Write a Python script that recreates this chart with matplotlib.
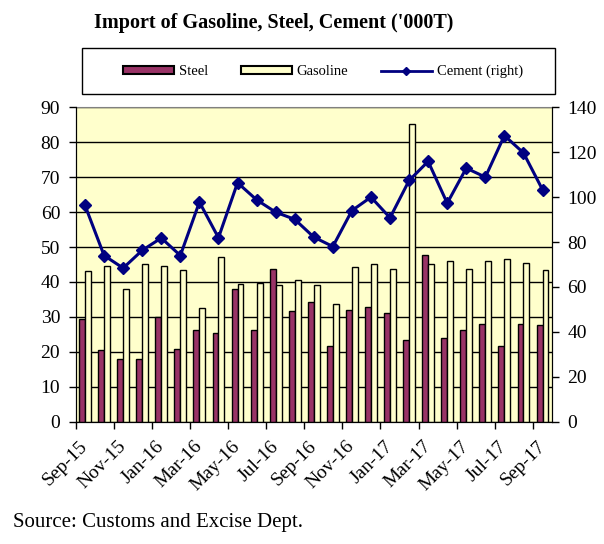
# Import packages
import matplotlib
matplotlib.use('Agg')
import matplotlib.pyplot as plt
from matplotlib.patches import Rectangle
from matplotlib.lines import Line2D
from matplotlib.patches import Patch

plt.rcParams['font.family'] = ['Liberation Serif', 'DejaVu Serif']

# Monthly data, Sep-15 to Sep-17
months = ['Sep-15', 'Oct-15', 'Nov-15', 'Dec-15', 'Jan-16', 'Feb-16', 'Mar-16',
          'Apr-16', 'May-16', 'Jun-16', 'Jul-16', 'Aug-16', 'Sep-16', 'Oct-16',
          'Nov-16', 'Dec-16', 'Jan-17', 'Feb-17', 'Mar-17', 'Apr-17', 'May-17',
          'Jun-17', 'Jul-17', 'Aug-17', 'Sep-17']
steel = [29.5, 20.5, 18, 18, 30, 20.8, 26.2, 25.4, 38.1, 26.2, 43.8, 31.7,
         34.4, 21.7, 32.1, 32.9, 31, 23.3, 47.8, 24, 26.2, 28.1, 21.7, 28.1, 27.6]
gasoline = [43.1, 44.6, 37.9, 45, 44.6, 43.5, 32.6, 47.1, 39.5, 39.6, 39, 40.5,
            39, 33.6, 44.3, 45.2, 43.8, 85.3, 45.2, 45.9, 43.8, 45.9, 46.7, 45.5, 43.3]
cement = [96.3, 74, 68.4, 76.3, 81.8, 74, 97.8, 81.9, 106.4, 98.8, 93.3, 90.1,
          82.2, 78, 94, 100, 90.8, 107.4, 115.9, 97.3, 112.9, 108.9, 127.4, 119.7, 103.3]

x = list(range(len(months)))

fig = plt.figure(figsize=(6.04, 5.44), dpi=100)
ax = fig.add_axes([0.125, 0.2248, 0.789, 0.578])
ax.set_facecolor('#FFFFCC')

# Bars
w = 0.31
ax.bar([i - w / 2 for i in x], steel, width=w, color='#993366',
       edgecolor='black', linewidth=1, zorder=3)
ax.bar([i + w / 2 for i in x], gasoline, width=w, color='#FFFFCC',
       edgecolor='black', linewidth=1, zorder=3)

ax.set_ylim(0, 90)
ax.set_yticks(range(0, 91, 10))
ax.set_xlim(-0.5, 24.5)
ax.yaxis.grid(True, color='black', linewidth=1, zorder=0)
ax.set_axisbelow(True)

# x ticks at category boundaries, labels at every other month
ax.set_xticks([i - 0.5 for i in range(0, 25, 2)])
ax.set_xticklabels([])
ax.set_xticks(x[::2], minor=True)
ax.set_xticklabels(months[::2], minor=True, rotation=45, ha='right',
                   va='center', rotation_mode='anchor', fontsize=14)
ax.tick_params(axis='x', which='minor', length=0, pad=16)
ax.tick_params(axis='x', which='major', length=5, width=1)
ax.tick_params(axis='y', labelsize=14, length=5, width=1, pad=6)
for s in ['left', 'right', 'bottom']:
    ax.spines[s].set_color('black')
ax.spines['top'].set_color('#808080')

# Cement on right axis
ax2 = ax.twinx()
ax2.plot(x, cement, color='#000080', linewidth=2.2, marker='D',
         markersize=5.8, zorder=4)
ax2.set_ylim(0, 140)
ax2.set_yticks(range(0, 141, 20))
ax2.tick_params(axis='y', labelsize=14, length=5, width=1, pad=6)
ax2.spines['top'].set_visible(False)

# Title
fig.text(274 / 604, 1 - 23 / 544, "Import of Gasoline, Steel, Cement ('000T)",
         ha='center', va='center', fontsize=14.5, fontweight='bold')

# Legend box
fig.patches.append(Rectangle((82 / 604, 1 - 94.3 / 544), 473 / 604, 46 / 544,
                             transform=fig.transFigure, facecolor='white',
                             edgecolor='black', linewidth=1))
handles = [Patch(facecolor='#993366', edgecolor='black', linewidth=1.5),
           Patch(facecolor='#FFFFCC', edgecolor='black', linewidth=1.5),
           Line2D([], [], color='#000080', linewidth=2, marker='D', markersize=4)]
fig.legend(handles, ['Steel', 'Gasoline', 'Cement (right)'], loc='center',
           bbox_to_anchor=(323 / 604, 1 - 71.5 / 544), ncol=3, frameon=False,
           fontsize=10.5, handlelength=3.5, handleheight=0.4,
           columnspacing=2.2, handletextpad=0.35)

fig.text(13 / 604, 1 - 522 / 544, 'Source: Customs and Excise Dept.',
         ha='left', va='center', fontsize=15)

fig.savefig('out.png', dpi=100)
